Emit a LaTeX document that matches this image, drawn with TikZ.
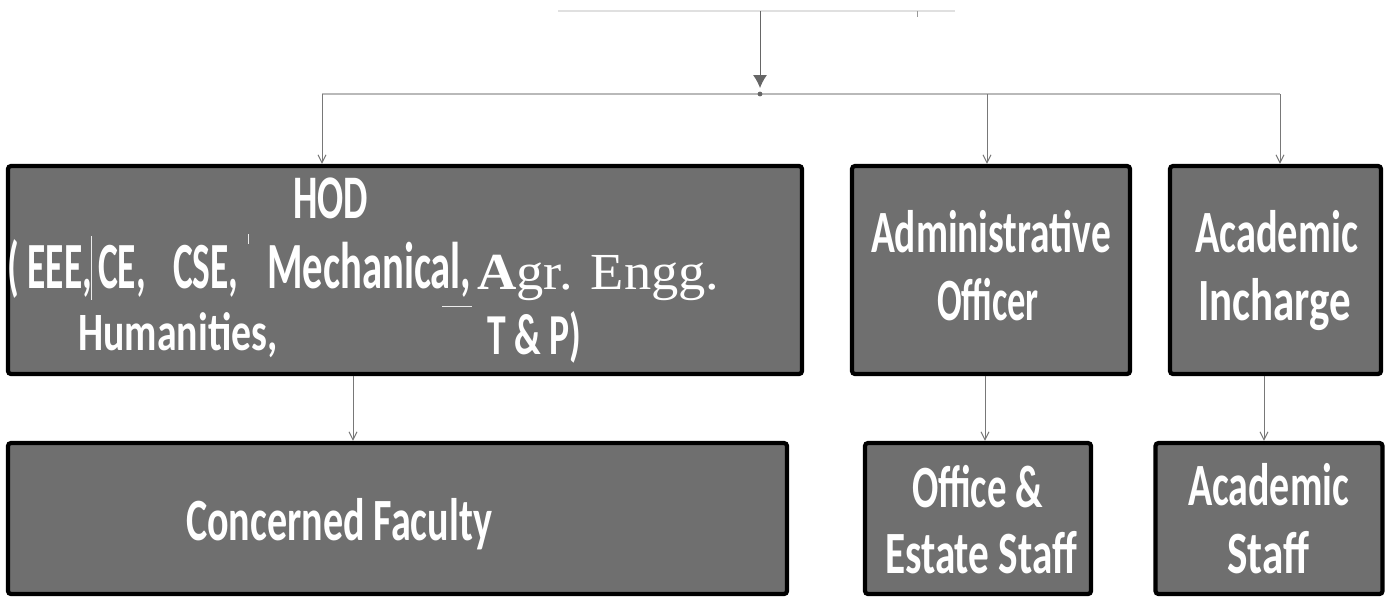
\documentclass[tikz,border=0pt]{standalone}
\usepackage{graphicx}
\usepackage{fontspec}
\setmainfont{Carlito}
\newfontfamily\serifA{Liberation Serif}
\usetikzlibrary{arrows.meta}
\definecolor{boxgray}{RGB}{111,111,111}
\definecolor{wiregray}{RGB}{120,120,120}
\definecolor{busgray}{RGB}{185,185,185}
\newcommand\fitw[2]{\resizebox{#1}{\height}{#2}}
\begin{document}
\begin{tikzpicture}[x=0.5pt,y=-0.5pt,
  box/.style={draw=black, line width=2.1pt, fill=boxgray, rounded corners=1.5pt, inner sep=0pt},
  lbl/.style={text=white, font=\bfseries\fontsize{30}{36}\selectfont, inner sep=0pt, anchor=base},
  lblh/.style={text=white, font=\bfseries\fontsize{27}{32}\selectfont, inner sep=0pt, anchor=base west},
  wire/.style={draw=wiregray, line width=0.5pt},
  branch/.style={draw=wiregray, line width=0.5pt, -{Straight Barb[length=4pt,width=4pt]}},
  bus/.style={draw=busgray, line width=1.2pt},
  glitch/.style={draw=white!85!gray, line width=0.5pt}]
\useasboundingbox[fill=white] (0,0) rectangle (1391,596);

% boxes
\node[box, minimum width=397pt, minimum height=104pt] (hod) at (405,270) {};
\node[box, minimum width=139pt, minimum height=104pt] (adm) at (991,270) {};
\node[box, minimum width=105.5pt, minimum height=104pt] (aci) at (1275.5,270) {};
\node[box, minimum width=389.5pt, minimum height=75.5pt] (fac) at (397.5,518.5) {};
\node[box, minimum width=113pt, minimum height=75.5pt] (off) at (978,518.5) {};
\node[box, minimum width=113.5pt, minimum height=75.5pt] (acs) at (1269,518.5) {};

% top connectors
\coordinate (topL) at (558,11);
\coordinate (topR) at (955,11);
\coordinate (topT) at (917,11);
\coordinate (src) at (760,11);
\coordinate (jn) at (760,94);
\coordinate (b1) at (322,94);
\coordinate (b2) at (987,94);
\coordinate (b3) at (1280,94);
\draw[draw=black!12, line width=0.8pt] (topL) -- (topR);
\draw[draw=black!40, line width=0.5pt] (topT) -- ++(0,6);
\draw[wire, draw=black!60, -{Latex[length=6.5pt,width=7pt]}] (src) -- ([yshift=3pt]jn);
\draw[bus] (b1) -- (b3);
\fill[black!60] (jn) circle (1.2pt);
\draw[branch] (b1) -- (b1 |- hod.north);
\draw[branch] (b2) -- (b2 |- adm.north);
\draw[branch] (b3) -- (b3 |- aci.north);

% lower connectors
\draw[branch] ([xshift=-26pt]hod.south) -- ([xshift=-26pt]hod.south |- fac.north);
\draw[branch] ([xshift=-3pt]adm.south) -- ([xshift=-3pt]adm.south |- off.north);
\draw[branch] ([xshift=-5.75pt]aci.south) -- ([xshift=-5.75pt]aci.south |- acs.north);

% HOD texts
\node[lbl, font=\bfseries\fontsize{31}{36}\selectfont] (t-hod) at (330.5,218) {\fitw{37.5pt}{HOD}};
\node[lblh, font=\bfseries\fontsize{33}{36}\selectfont] (t-l2a) at (7,288) {\fitw{115.5pt}{( EEE,\,CE,\enspace\ CSE,}};
\node[lblh, font=\bfseries\fontsize{33}{36}\selectfont] (t-l2b) at (267,288) {\fitw{102pt}{Mechanical,}};
\node[lblh, font=\serifA\fontsize{26}{30}\selectfont] (t-l2c) at (477,289) {\fitw{121pt}{\textbf{A}gr. Engg.}};
\node[lblh] (t-l3a) at (78,350) {\fitw{99.5pt}{Humanities,}};
\node[lblh, font=\bfseries\fontsize{29}{36}\selectfont] (t-l3b) at (487,354) {\fitw{47pt}{T \& P)}};
\draw[glitch] (91,236) -- (91,300);
\draw[glitch] (248,234) -- (248,244);
\draw[glitch] (442,306) -- (472,306);

% right texts
\node[lbl] (t-adm1) at (991,252) {\fitw{120pt}{Administrative}};
\node[lbl] (t-adm2) at (988,320) {\fitw{51pt}{Officer}};
\node[lbl] (t-aci1) at (1276.5,252) {\fitw{81.5pt}{Academic}};
\node[lbl] (t-aci2) at (1274.5,320) {\fitw{76.5pt}{Incharge}};
\node[lbl] (t-fac) at (339,540) {\fitw{153pt}{Concerned Faculty}};
\node[lbl] (t-off1) at (977.5,507) {\fitw{65.5pt}{Office \&}};
\node[lbl] (t-off2) at (981,573) {\fitw{96pt}{Estate Staff}};
\node[lbl] (t-acs1) at (1268.5,505) {\fitw{80.5pt}{Academic}};
\node[lbl] (t-acs2) at (1268,573) {\fitw{41pt}{Staff}};
\end{tikzpicture}
\end{document}
